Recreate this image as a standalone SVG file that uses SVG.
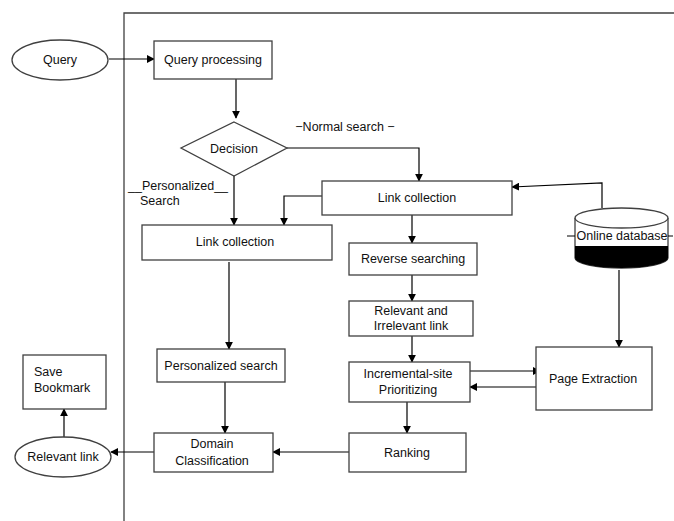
<svg xmlns="http://www.w3.org/2000/svg" width="674" height="521" viewBox="0 0 674 521">
<style>
.b{fill:#fff;stroke:#404040;stroke-width:1.3}
.t{font-family:"Liberation Sans",Arial,sans-serif;font-size:12.5px;fill:#111;text-anchor:middle}
.l{fill:none;stroke:#000;stroke-width:1.2}
</style>
<defs>
<marker id="a" viewBox="0 0 10 10" refX="9" refY="5" markerWidth="8" markerHeight="8" markerUnits="userSpaceOnUse" orient="auto"><path d="M0,0L10,5L0,10z" fill="#000"/></marker>
</defs>
<rect width="674" height="521" fill="#fff"/>
<g id="frame"><path d="M124,521V13H674" fill="none" stroke="#404040" stroke-width="1.3"/></g>
<g id="connectors">
<path class="l" d="M109,59H154" marker-end="url(#a)"/>
<path class="l" d="M236,79V118" marker-end="url(#a)"/>
<path class="l" d="M287,148H419V181" marker-end="url(#a)"/>
<path class="l" d="M234,176V225" marker-end="url(#a)"/>
<path class="l" d="M322,196H284V225" marker-end="url(#a)"/>
<path class="l" d="M602,208V183L512,187" marker-end="url(#a)"/>
<path class="l" d="M619,270V347" marker-end="url(#a)"/>
<path class="l" d="M412,215V243" marker-end="url(#a)"/>
<path class="l" d="M412,275V301" marker-end="url(#a)"/>
<path class="l" d="M412,336V362" marker-end="url(#a)"/>
<path class="l" d="M470,371H540" marker-end="url(#a)"/>
<path class="l" d="M536,387H470" marker-end="url(#a)"/>
<path class="l" d="M407,402V433" marker-end="url(#a)"/>
<path class="l" d="M349,452H273" marker-end="url(#a)"/>
<path class="l" d="M229,262V349" marker-end="url(#a)"/>
<path class="l" d="M225,382V433" marker-end="url(#a)"/>
<path class="l" d="M154,452H111" marker-end="url(#a)"/>
<path class="l" d="M64,437V409" marker-end="url(#a)"/>
</g>
<g id="query"><ellipse class="b" cx="60" cy="60" rx="48" ry="20"/><text class="t" x="60" y="64">Query</text></g>
<g id="query-processing"><rect class="b" x="154" y="41" width="118" height="38"/><text class="t" x="213" y="64">Query processing</text></g>
<g id="decision"><path class="b" d="M234,122L287,148L234,176L181,148z"/><text class="t" x="234" y="153">Decision</text></g>
<g id="label-normal"><text class="t" x="345" y="131" style="text-anchor:middle">−Normal search −</text></g>
<g id="label-personalized"><text class="t" x="128" y="190" style="text-anchor:start">__Personalized__</text><text class="t" x="140" y="205" style="text-anchor:start">Search</text></g>
<g id="link-collection-right"><rect class="b" x="322" y="181" width="190" height="34"/><text class="t" x="417" y="202">Link collection</text></g>
<g id="link-collection-left"><rect class="b" x="142" y="225" width="190" height="35"/><text class="t" x="235" y="246">Link collection</text></g>
<g id="online-database">
<path d="M575,218V258A46.5,10 0 0 0 668,258V218" fill="#fff" stroke="#404040" stroke-width="1.3"/>
<path d="M575,246V258A46.5,10 0 0 0 668,258V246z" fill="#000"/>
<ellipse class="b" cx="621.5" cy="218" rx="46.5" ry="10"/>
<path d="M567,236H575M668,236H673" stroke="#000" stroke-width="1"/>
<text class="t" x="622" y="240">Online database</text>
</g>
<g id="reverse-searching"><rect class="b" x="349" y="243" width="128" height="32"/><text class="t" x="413" y="263">Reverse searching</text></g>
<g id="relevant-irrelevant"><rect class="b" x="349" y="301" width="124" height="35"/><text class="t" x="411" y="315">Relevant and</text><text class="t" x="411" y="330">Irrelevant link</text></g>
<g id="incremental"><rect class="b" x="349" y="362" width="121" height="40"/><text class="t" x="408" y="378">Incremental-site</text><text class="t" x="408" y="394">Prioritizing</text></g>
<g id="page-extraction"><rect class="b" x="536" y="347" width="116" height="63"/><text class="t" x="593" y="383">Page Extraction</text></g>
<g id="ranking"><rect class="b" x="349" y="433" width="117" height="39"/><text class="t" x="407" y="457">Ranking</text></g>
<g id="domain-classification"><rect class="b" x="154" y="433" width="119" height="39"/><text class="t" x="212" y="448">Domain</text><text class="t" x="212" y="465">Classification</text></g>
<g id="personalized-search"><rect class="b" x="157" y="349" width="128" height="33"/><text class="t" x="221" y="370">Personalized search</text></g>
<g id="relevant-link"><ellipse class="b" cx="63" cy="457" rx="48" ry="20"/><text class="t" x="63" y="461">Relevant link</text></g>
<g id="save-bookmark"><rect class="b" x="23" y="355" width="83" height="54"/><text class="t" x="34" y="376" style="text-anchor:start">Save</text><text class="t" x="34" y="392" style="text-anchor:start">Bookmark</text></g>
</svg>
